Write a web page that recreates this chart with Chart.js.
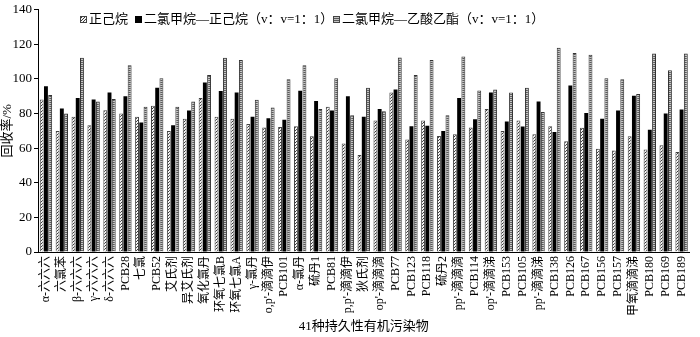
<!DOCTYPE html>
<html>
<head>
<meta charset="utf-8">
<script src="https://cdn.jsdelivr.net/npm/chart.js@4/dist/chart.umd.min.js"></script>
<style>
  html, body { margin: 0; padding: 0; background: #fff; }
  #wrap { width: 700px; height: 337px; }
</style>
</head>
<body>
<div id="wrap"><canvas id="barChart" width="700" height="337"></canvas></div>
<script>
var labels = ["α-六六六", "六氯苯", "β-六六六", "γ-六六六", "δ-六六六", "PCB28", "七氯", "PCB52",
  "艾氏剂", "异艾氏剂", "氧化氯丹", "环氧七氯B", "环氧七氯A", "γ-氯丹", "o,p'-滴滴伊", "PCB101",
  "α-氯丹", "硫丹1", "PCB81", "p,p'-滴滴伊", "狄氏剂", "op'-滴滴滴", "PCB77", "PCB123", "PCB118",
  "硫丹2", "pp'-滴滴滴", "PCB114", "op'-滴滴涕", "PCB153", "PCB105", "pp'-滴滴涕", "PCB138",
  "PCB126", "PCB167", "PCB156", "PCB157", "甲氧滴滴涕", "PCB180", "PCB169", "PCB189"];

var seriesNames = ["正己烷", "二氯甲烷—正己烷（v：v=1：1）", "二氯甲烷—乙酸乙酯（v：v=1：1）"];

var hexane = [88.2, 70, 78.2, 73.3, 82, 80, 78.2, 84.5, 70, 77, 89, 78.2, 77, 74, 72, 72.3,
  72.7, 66.9, 84, 62.7, 56, 76, 92.2, 65, 76, 67, 68, 72, 82.6, 70, 76, 68, 72.7,
  64, 71.8, 59.7, 58.7, 66.9, 59.3, 61.7, 57.8];
var dcmHexane = [95.8, 83, 89, 88.2, 92.2, 90, 74.8, 95, 73.3, 81.8, 98, 93, 92.2, 78.2, 77.3, 76.5,
  93.2, 87.3, 81.8, 90, 78.2, 82.6, 94, 72.7, 73, 70, 89, 76.7, 92.2, 75.4, 72.5, 87, 69.3,
  96.2, 80.3, 77, 81.8, 90.3, 70.6, 80, 82.4];
var dcmEthyl = [90.7, 80, 112.3, 87, 88.4, 108, 84, 100.4, 84, 87, 102.3, 112.3, 111, 88, 83.5, 99.8,
  108, 82.6, 100.4, 79, 95, 81.4, 112.5, 102.3, 111, 79, 113, 93.4, 94, 92.2, 95, 80.9, 118,
  115, 114, 100.4, 99.8, 91.3, 114.8, 105, 114.8];

var yTicks = [0, 20, 40, 60, 80, 100, 120, 140];

var serifFont = "'Liberation Serif', 'Times New Roman', 'Noto Sans CJK SC', serif";

// hatch patterns like the printed figure
function makePattern(kind) {
  var c = document.createElement('canvas');
  var g = c.getContext('2d');
  if (kind == 'diag') {
    c.width = 3; c.height = 3;
    g.fillStyle = '#f4f4f4';
    g.fillRect(0, 0, 3, 3);
    g.fillStyle = '#3a3a3a';
    for (var i = 0; i < 3; i++) {
      g.fillRect(2 - i, i, 1, 1);
    }
  } else {
    c.width = 2; c.height = 2;
    g.fillStyle = '#c4c4c4';
    g.fillRect(0, 0, 2, 2);
    g.fillStyle = '#5a5a5a';
    g.fillRect(0, 0, 2, 1);
  }
  return g.createPattern(c, 'repeat');
}

var diagFill = makePattern('diag');
var lineFill = makePattern('lines');

var legendInside = {
  id: 'legendInside',
  afterDraw: function(chart) {
    var ctx = chart.ctx;
    var items = [
      { x: 80, fill: diagFill, border: '#444' },
      { x: 135, fill: '#000', border: '#000' },
      { x: 333, fill: lineFill, border: '#444' }
    ];
    var y = 19;
    ctx.save();
    ctx.font = "13px " + serifFont;
    ctx.textBaseline = 'middle';
    ctx.textAlign = 'left';
    for (var i = 0; i < items.length; i++) {
      ctx.fillStyle = items[i].fill;
      ctx.fillRect(items[i].x, y - 3, 7, 7);
      ctx.strokeStyle = items[i].border;
      ctx.lineWidth = 1;
      ctx.strokeRect(items[i].x + 0.5, y - 2.5, 6, 6);
      ctx.fillStyle = '#000';
      ctx.fillText(seriesNames[i], items[i].x + 9, y + 1);
    }
    ctx.restore();
  }
};

var ctx = document.getElementById("barChart").getContext('2d');
var myChart = new Chart(ctx, {
  type: 'bar',
  data: {
    labels: labels,
    datasets: [{
      label: seriesNames[0],
      data: hexane,
      backgroundColor: diagFill,
      borderColor: '#444',
      borderWidth: 1
    }, {
      label: seriesNames[1],
      data: dcmHexane,
      backgroundColor: '#000',
      borderWidth: 0
    }, {
      label: seriesNames[2],
      data: dcmEthyl,
      backgroundColor: lineFill,
      borderColor: '#333',
      borderWidth: 1
    }]
  },
  options: {
    responsive: false,
    animation: false,
    devicePixelRatio: 1,
    layout: { padding: { top: 6, right: 1, left: 0, bottom: 0 } },
    datasets: {
      bar: { categoryPercentage: 0.8, barPercentage: 0.92 }
    },
    plugins: {
      legend: { display: false },
      tooltip: { enabled: false }
    },
    scales: {
      x: {
        grid: { display: false, drawTicks: false },
        border: { display: true, color: '#000', width: 1 },
        ticks: {
          autoSkip: false,
          maxRotation: 90,
          minRotation: 90,
          padding: 4,
          color: '#000',
          font: { family: serifFont, size: 12 }
        },
        title: {
          display: true,
          text: '41种持久性有机污染物',
          color: '#000',
          font: { family: serifFont, size: 13 },
          padding: { top: 0, bottom: 3 }
        },
        afterFit: function(scale) { scale.height = 85; }
      },
      y: {
        min: 0,
        max: 140,
        afterBuildTicks: function(scale) {
          scale.ticks = yTicks.map(function(v) { return { value: v }; });
        },
        grid: { display: true, drawOnChartArea: false, tickLength: 4, color: '#000' },
        border: { display: true, color: '#000', width: 1 },
        ticks: {
          padding: 2,
          color: '#000',
          font: { family: serifFont, size: 13 }
        },
        title: {
          display: true,
          text: '回收率/%',
          color: '#000',
          font: { family: serifFont, size: 13 },
          padding: { top: 0, bottom: 0 }
        },
        afterFit: function(scale) { scale.width = 38; }
      }
    }
  },
  plugins: [legendInside]
});
</script>
</body>
</html>
